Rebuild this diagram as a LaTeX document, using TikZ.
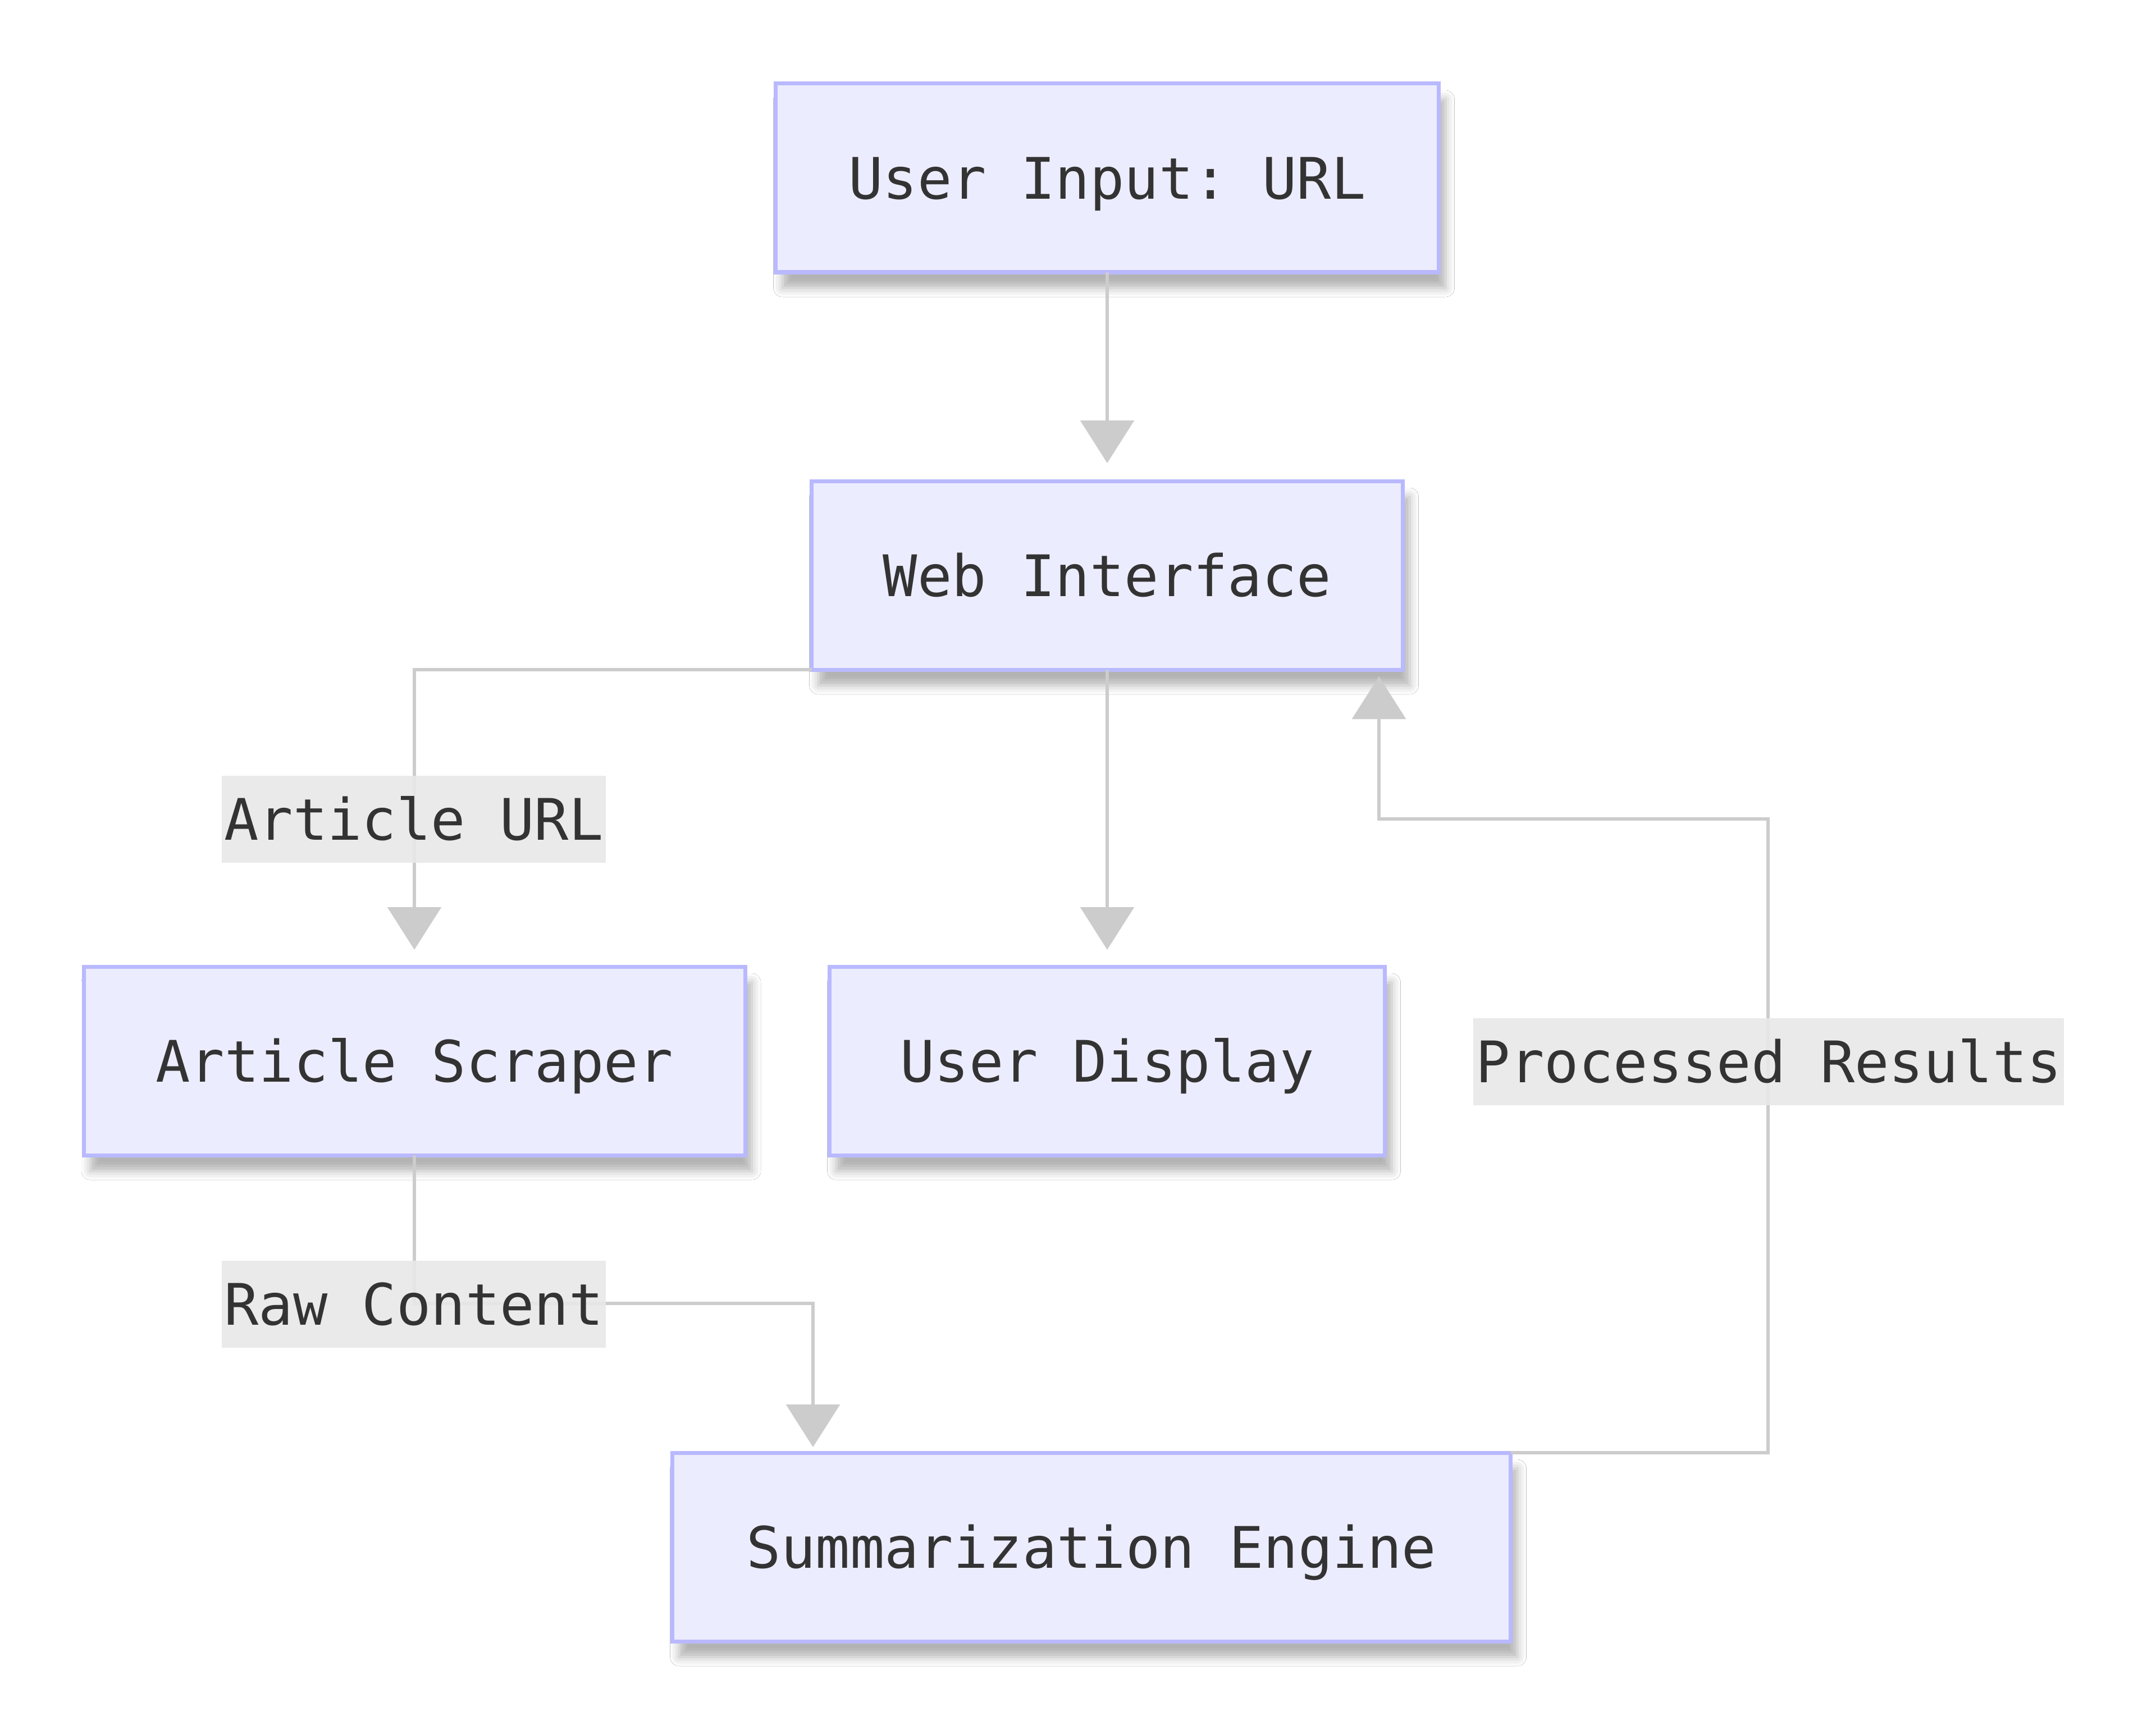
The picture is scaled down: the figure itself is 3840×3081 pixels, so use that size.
\documentclass[tikz,border=0pt]{standalone}
\usepackage{fontspec}
\setmonofont{DejaVu Sans Mono}
\usetikzlibrary{arrows.meta,shadows.blur,calc}
\definecolor{nodefill}{RGB}{236,236,255}
\definecolor{nodedraw}{RGB}{185,185,255}
\definecolor{edgecol}{RGB}{204,204,204}
\definecolor{labelbg}{RGB}{232,232,232}
\definecolor{txt}{RGB}{51,51,51}
\tikzset{
  box/.style={draw=nodedraw, fill=nodefill, line width=1.75pt, outer sep=0pt,
    minimum height=84pt, text=txt, font=\ttfamily\fontsize{25.5}{30}\selectfont,
    text height=18.6pt, text depth=0pt,
    blur shadow={shadow xshift=3pt, shadow yshift=-7pt, shadow blur radius=4pt, shadow opacity=30}},
  edge/.style={draw=edgecol, line width=1.6pt, -{Triangle[width=23.75pt,length=19pt]}},
  lab/.style={fill=labelbg, fill opacity=0.9, text opacity=1, text=txt,
    font=\ttfamily\fontsize{25.5}{30}\selectfont, inner xsep=1pt, inner ysep=0pt,
    minimum height=38.75pt, text height=18.6pt, text depth=0pt}
}
\begin{document}
\begin{tikzpicture}[x=0.25pt,y=-0.25pt]
\useasboundingbox[fill=white] (0,0) rectangle (3840,3081);
\node[box, minimum width=295.25pt] (ui) at (1972,317) {User Input: URL};
\node[box, minimum width=263.25pt] (wi) at (1972,1025) {Web Interface};
\node[box, minimum width=294.5pt] (as) at (738,1890) {Article Scraper};
\node[box, minimum width=247.25pt] (ud) at (1972,1890) {User Display};
\node[box, minimum width=373.25pt] (se) at (1944,2756) {Summarization Engine};
\coordinate (k1) at (1448,2322);
\coordinate (k2) at (3149,1459);
\coordinate (k3) at (2456,1459);
\draw[edge, shorten >=8pt] (ui) -- (wi);
\draw[edge, shorten >=7.5pt] (wi.south west) -| (as.north);
\draw[edge, shorten >=7.5pt] (wi) -- (ud);
\draw[edge, shorten >=2.5pt] (as.south) |- (k1) -- (k1 |- se.north);
\draw[edge, shorten >=3pt] (se.north east) -| (k2) -- (k3) -- (k3 |- wi.south);
\node[lab] (l1) at (737,1459) {Article URL};
\node[lab] (l2) at (737,2323) {Raw Content};
\node[lab] (l3) at (3150,1891) {Processed Results};
\end{tikzpicture}
\end{document}
